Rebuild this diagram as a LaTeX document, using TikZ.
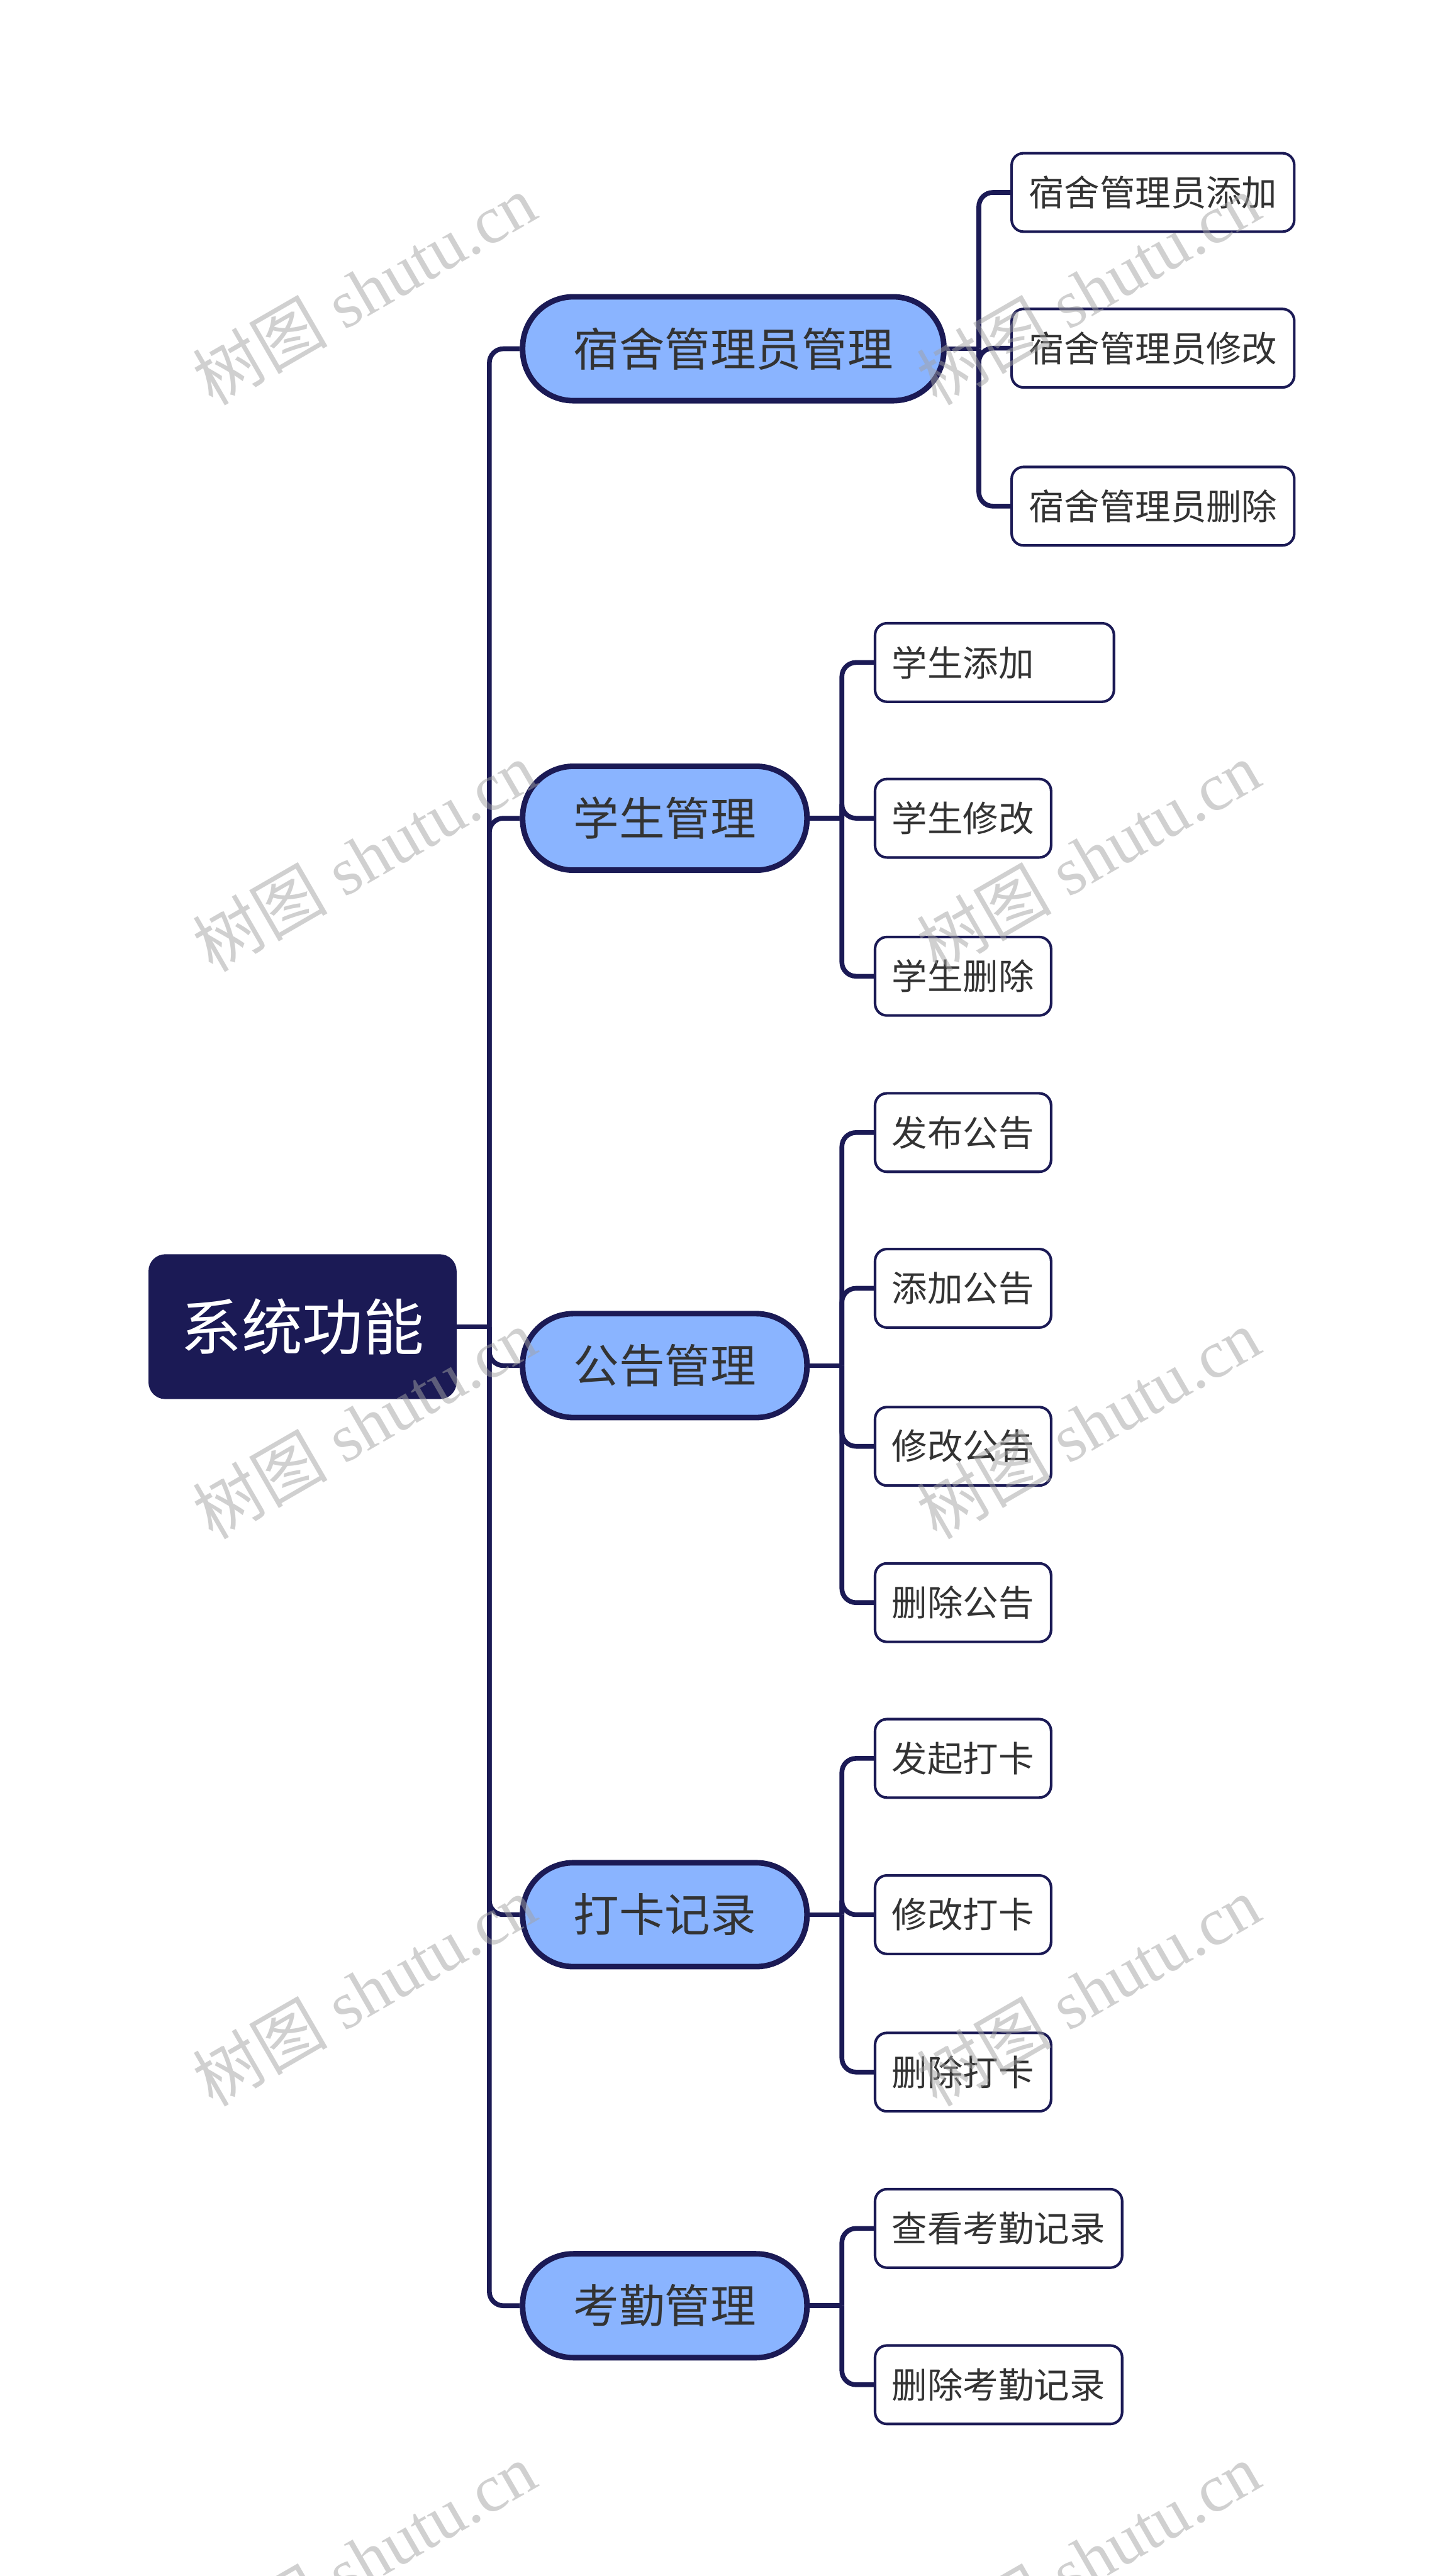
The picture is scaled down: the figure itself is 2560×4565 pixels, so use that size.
\documentclass[tikz,border=0pt]{standalone}
\usepackage{fontspec}
\newfontfamily\cjk{Noto Sans CJK SC}
\newfontfamily\wmlatin{Liberation Serif}
\usetikzlibrary{backgrounds}
\definecolor{navy}{HTML}{1B1A55}
\definecolor{topicfill}{HTML}{8AB4FF}
\definecolor{txt}{HTML}{333333}
\definecolor{wmgray}{HTML}{A2A2A2}
\begin{document}
\begin{tikzpicture}[x=0.01cm,y=-0.01cm,
  rootnode/.style={fill=navy,draw=navy,line width=1pt,rounded corners=0.28cm,
    minimum width=5.42cm,minimum height=2.53cm,inner sep=0pt,text=white,
    font=\cjk\fontsize{30.7}{34}\selectfont},
  topic/.style={fill=topicfill,draw=navy,line width=2.8pt,rounded corners=0.9cm,
    minimum height=1.84cm,inner xsep=0.90cm,inner ysep=0pt,text=txt,anchor=west,
    font=\cjk\fontsize{23}{26}\selectfont},
  leaf/.style={fill=white,draw=navy,line width=1.3pt,rounded corners=0.21cm,
    minimum height=1.39cm,inner xsep=0.30cm,inner ysep=0pt,text=txt,anchor=west,
    font=\cjk\fontsize{17.9}{20}\selectfont},
  conn/.style={draw=navy,line width=2.4pt,rounded corners=0.25cm},
  wmark/.style={text=wmgray,text opacity=0.5,rotate=30,inner sep=0pt,
    font=\wmlatin\fontsize{34}{38}\selectfont}
]
\useasboundingbox (0,0) rectangle (2560,4565);

% root
\node[rootnode] (root) at (536,2351) {系统功能};

% level 1
\node[topic] (t1) at (921,618) {宿舍管理员管理};
\node[topic] (t2) at (921,1450) {学生管理};
\node[topic] (t3) at (921,2420) {公告管理};
\node[topic] (t4) at (921,3393) {打卡记录};
\node[topic] (t5) at (921,4086) {考勤管理};

% leaves group 1
\node[leaf] (a1) at (1790,341) {宿舍管理员添加};
\node[leaf] (a2) at (1790,617) {宿舍管理员修改};
\node[leaf] (a3) at (1790,897) {宿舍管理员删除};
% group 2
\node[leaf] (b1) at (1548,1174) {\makebox[3.63cm][l]{学生添加}};
\node[leaf] (b2) at (1548,1450) {学生修改};
\node[leaf] (b3) at (1548,1730) {学生删除};
% group 3
\node[leaf] (c1) at (1548,2007) {发布公告};
\node[leaf] (c2) at (1548,2283) {添加公告};
\node[leaf] (c3) at (1548,2563) {修改公告};
\node[leaf] (c4) at (1548,2840) {删除公告};
% group 4
\node[leaf] (d1) at (1548,3116) {发起打卡};
\node[leaf] (d2) at (1548,3393) {修改打卡};
\node[leaf] (d3) at (1548,3672) {删除打卡};
% group 5
\node[leaf] (e1) at (1548,3949) {查看考勤记录};
\node[leaf] (e2) at (1548,4226) {删除考勤记录};

\begin{scope}[on background layer]
  \draw[conn] (root.east) -- ++(58,0) coordinate (rj);
  \foreach \t in {t1,t2,t3,t4,t5} \draw[conn] (rj) |- (\t.west);
  \draw[conn] (t1.east) -- ++(57,0) coordinate (j1);
  \foreach \l in {a1,a2,a3} \draw[conn] (j1) |- (\l.west);
  \draw[conn] (t2.east) -- ++(57,0) coordinate (j2);
  \foreach \l in {b1,b2,b3} \draw[conn] (j2) |- (\l.west);
  \draw[conn] (t3.east) -- ++(57,0) coordinate (j3);
  \foreach \l in {c1,c2,c3,c4} \draw[conn] (j3) |- (\l.west);
  \draw[conn] (t4.east) -- ++(57,0) coordinate (j4);
  \foreach \l in {d1,d2,d3} \draw[conn] (j4) |- (\l.west);
  \draw[conn] (t5.east) -- ++(57,0) coordinate (j5);
  \foreach \l in {e1,e2} \draw[conn] (j5) |- (\l.west);
\end{scope}

% watermarks
\foreach \wy [count=\i] in {513,1518,2523,3528,4533}{
  \node[wmark] (wl\i) at (645,\wy) {{\cjk 树图} shutu.cn};
  \node[wmark] (wr\i) at (1928,\wy) {{\cjk 树图} shutu.cn};
}
\end{tikzpicture}
\end{document}
